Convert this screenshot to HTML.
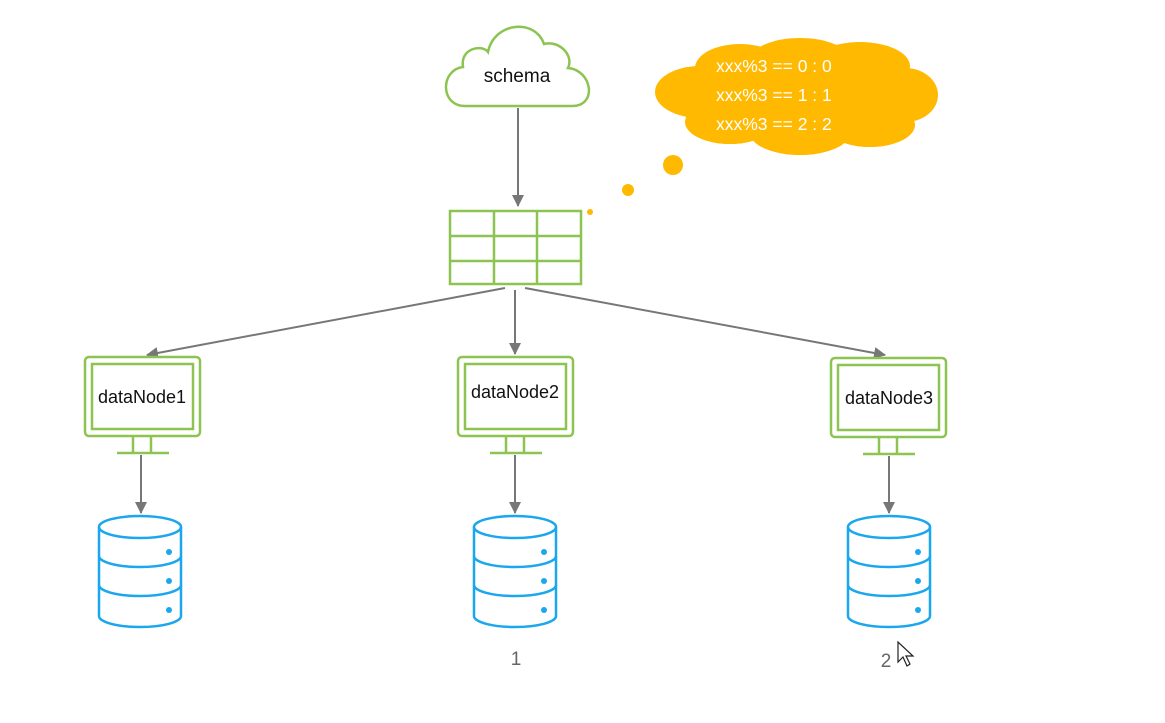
<!DOCTYPE html>
<html><head><meta charset="utf-8"><style>
html,body{margin:0;padding:0;background:#fff;}
svg{display:block;}
text{font-family:"Liberation Sans","DejaVu Sans",sans-serif;}
</style></head><body>
<svg width="1165" height="723" viewBox="0 0 1165 723" xmlns="http://www.w3.org/2000/svg">
<defs>
<marker id="ah" markerWidth="14" markerHeight="14" refX="11" refY="6" orient="auto" markerUnits="userSpaceOnUse">
<path d="M0,0 L12,6 L0,12 z" fill="#777"/>
</marker>
<g id="mon">
<rect x="0" y="0" width="115" height="79" rx="4" fill="#fff" stroke="#8dc451" stroke-width="2.5"/>
<rect x="7" y="7" width="101" height="65" fill="none" stroke="#8dc451" stroke-width="2.5"/>
<path d="M48,80 V95 M66,80 V95 M32,96 H84" stroke="#8dc451" stroke-width="2.5" fill="none"/>
</g>
<g id="db" fill="none" stroke="#1aa7ee" stroke-width="2.5">
<ellipse cx="41" cy="11" rx="41" ry="11" fill="#fff"/>
<path d="M0,11 V100 A41,11 0 0 0 82,100 V11"/>
<path d="M0,40 A41,11 0 0 0 82,40"/>
<path d="M0,69 A41,11 0 0 0 82,69"/>
<circle cx="70" cy="36" r="3" fill="#1aa7ee" stroke="none"/>
<circle cx="70" cy="65" r="3" fill="#1aa7ee" stroke="none"/>
<circle cx="70" cy="94" r="3" fill="#1aa7ee" stroke="none"/>
</g>
</defs>

<!-- schema cloud -->
<path d="M465,106 C440,106 440,70 463,67 C460,48 482,44 488,52 C494,22 535,18 544,44 C560,40 574,56 568,68 C592,70 598,106 572,106 Z" fill="#fff" stroke="#8dc451" stroke-width="2.5"/>
<text x="517" y="82" font-size="19" text-anchor="middle" fill="#111">schema</text>

<line x1="518" y1="108" x2="518" y2="206" stroke="#777" stroke-width="2" marker-end="url(#ah)"/>

<!-- table -->
<g fill="none" stroke="#8dc451" stroke-width="2.5">
<rect x="450" y="211" width="131" height="73"/>
<path d="M494,211 V284 M537,211 V284 M450,236 H581 M450,261 H581"/>
</g>

<!-- orange cloud -->
<g fill="#ffb900">
<ellipse cx="797" cy="96" rx="128" ry="42"/>
<ellipse cx="700" cy="92" rx="45" ry="26"/>
<ellipse cx="740" cy="68" rx="45" ry="24"/>
<ellipse cx="800" cy="60" rx="50" ry="22"/>
<ellipse cx="860" cy="66" rx="50" ry="24"/>
<ellipse cx="905" cy="95" rx="33" ry="27"/>
<ellipse cx="870" cy="125" rx="45" ry="22"/>
<ellipse cx="800" cy="133" rx="50" ry="22"/>
<ellipse cx="730" cy="122" rx="45" ry="22"/>
<circle cx="673" cy="165" r="10"/>
<circle cx="628" cy="190" r="6"/>
<circle cx="590" cy="212" r="3"/>
</g>
<g fill="#fff" font-size="17.5">
<text x="716" y="72">xxx%3 == 0 : 0</text>
<text x="716" y="101">xxx%3 == 1 : 1</text>
<text x="716" y="130">xxx%3 == 2 : 2</text>
</g>

<!-- connectors -->
<g stroke="#777" stroke-width="2">
<line x1="505" y1="288" x2="147" y2="355" marker-end="url(#ah)"/>
<line x1="515" y1="290" x2="515" y2="354" marker-end="url(#ah)"/>
<line x1="525" y1="288" x2="885" y2="355" marker-end="url(#ah)"/>
<line x1="141" y1="455" x2="141" y2="513" marker-end="url(#ah)"/>
<line x1="515" y1="455" x2="515" y2="513" marker-end="url(#ah)"/>
<line x1="889" y1="456" x2="889" y2="513" marker-end="url(#ah)"/>
</g>

<use href="#mon" x="85" y="357"/>
<use href="#mon" x="458" y="357"/>
<use href="#mon" x="831" y="358"/>
<g font-size="18" fill="#111" text-anchor="middle">
<text x="142" y="403">dataNode1</text>
<text x="515" y="398">dataNode2</text>
<text x="889" y="404">dataNode3</text>
</g>

<use href="#db" x="99" y="516"/>
<use href="#db" x="474" y="516"/>
<use href="#db" x="848" y="516"/>

<g font-size="19" fill="#666" text-anchor="middle">
<text x="516" y="665">1</text>
<text x="886" y="667">2</text>
</g>
<!-- cursor -->
<path d="M898,642 L898,662 L903,657 L907,666 L910,664 L906,656 L913,656 Z" fill="#fff" stroke="#222" stroke-width="1.2"/>
</svg>
</body></html>
